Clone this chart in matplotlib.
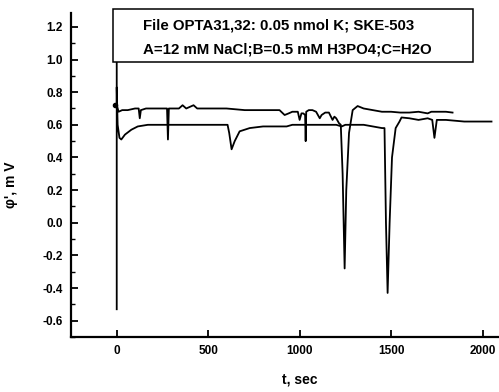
import matplotlib
matplotlib.use("Agg")
import matplotlib.pyplot as plt
from matplotlib.patches import Rectangle
from matplotlib.ticker import MultipleLocator

# ---- data ----
t_upper = [0, 0, 10, 30, 60, 100, 120, 126, 132, 160, 250, 275, 280, 285, 300,
           340, 360, 380, 400, 420, 440, 500, 600, 700, 800, 890, 918, 940, 960,
           990, 1000, 1010, 1020, 1030, 1033, 1036, 1050, 1070, 1090, 1110, 1120,
           1140, 1160, 1180, 1190, 1200, 1215, 1225, 1235, 1246, 1255, 1270, 1290,
           1317, 1350, 1400, 1450, 1500, 1550, 1600, 1650, 1700, 1720, 1750, 1800, 1836]
phi_upper = [1.30, 0.72, 0.68, 0.69, 0.69, 0.70, 0.70, 0.64, 0.69, 0.70, 0.70, 0.70,
             0.51, 0.70, 0.70, 0.70, 0.72, 0.70, 0.71, 0.72, 0.70, 0.70, 0.70, 0.69,
             0.69, 0.69, 0.66, 0.67, 0.68, 0.68, 0.63, 0.67, 0.67, 0.66, 0.50, 0.68,
             0.69, 0.69, 0.68, 0.64, 0.66, 0.675, 0.675, 0.63, 0.65, 0.64, 0.61, 0.60,
             0.30, -0.28, 0.20, 0.55, 0.69, 0.715, 0.70, 0.69, 0.68, 0.68, 0.675,
             0.675, 0.68, 0.67, 0.68, 0.68, 0.68, 0.675]

t_lower = [0, 0, 5, 15, 25, 45, 80, 115, 170, 300, 500, 606, 615, 628, 645, 672,
           727, 800, 929, 960, 1000, 1100, 1200, 1230, 1250, 1300, 1350, 1400, 1450,
           1464, 1472, 1481, 1492, 1505, 1525, 1546, 1557, 1600, 1650, 1700, 1725,
           1737, 1750, 1800, 1900, 2000, 2049]
phi_lower = [-0.53, 0.83, 0.60, 0.52, 0.51, 0.54, 0.57, 0.59, 0.60, 0.60, 0.60,
             0.60, 0.55, 0.45, 0.50, 0.56, 0.58, 0.59, 0.59, 0.60, 0.60, 0.60, 0.60,
             0.59, 0.60, 0.60, 0.60, 0.59, 0.58, 0.58, 0.00, -0.43, 0.00, 0.40, 0.58,
             0.62, 0.645, 0.64, 0.63, 0.64, 0.63, 0.52, 0.63, 0.63, 0.62, 0.62, 0.62]

x_ticks = [0, 500, 1000, 1500, 2000]
y_ticks = [-0.6, -0.4, -0.2, 0.0, 0.2, 0.4, 0.6, 0.8, 1.0, 1.2]
legend_lines = ["File OPTA31,32: 0.05 nmol K; SKE-503",
                "A=12 mM NaCl;B=0.5 mM H3PO4;C=H2O"]

plt.rcParams['font.family'] = ['Liberation Sans', 'DejaVu Sans']

W, H = 499, 392
fig = plt.figure(figsize=(W / 100, H / 100), dpi=100)
ax = fig.add_axes([71 / W, 1 - 337 / H, 1 - 71 / W, (337 - 13) / H])

ax.plot(t_upper, phi_upper, color='black', lw=1.3)
ax.plot(t_lower, phi_lower, color='black', lw=1.3)
ax.plot([t_upper[1] - 12], [phi_upper[1]], 'o', color='black', ms=3)

ax.set_xlim(-250, 2090)
ax.set_ylim(-0.70, 1.285)
ax.set_xticks(x_ticks)
ax.set_yticks(y_ticks)
ax.set_yticklabels([f"{v:.1f}" for v in y_ticks])
ax.yaxis.set_minor_locator(MultipleLocator(0.1))
ax.tick_params(axis='both', which='major', direction='in', length=5, width=1.3,
               labelsize=8.5, pad=6)
ax.tick_params(axis='y', which='minor', direction='in', length=3, width=1)
for lab in ax.get_xticklabels() + ax.get_yticklabels():
    lab.set_fontweight('bold')
for s in ['top', 'right']:
    ax.spines[s].set_visible(False)
for s in ['left', 'bottom']:
    ax.spines[s].set_linewidth(1.6)

ax.set_ylabel("φ', m V", fontsize=10, fontweight='bold')
ax.yaxis.set_label_coords(-(71 - 18) / (W - 71), (337 - 185) / (337 - 13))
ax.set_xlabel("t, sec", fontsize=10, fontweight='bold')
ax.xaxis.set_label_coords((300 - 71) / (W - 71), -(372 - 337) / (337 - 13))

# annotation box
box = Rectangle((113 / W, 1 - 62 / H), (473 - 113) / W, (62 - 9) / H,
                transform=fig.transFigure, facecolor='white', edgecolor='black',
                lw=1.1, zorder=5)
fig.patches.append(box)
fig.text(143 / W, 1 - 26 / H, legend_lines[0], fontsize=10.8, fontweight='bold',
         va='center', ha='left', zorder=6)
fig.text(143 / W, 1 - 49 / H, legend_lines[1], fontsize=10.8, fontweight='bold',
         va='center', ha='left', zorder=6)

fig.savefig("out.png", dpi=100)
